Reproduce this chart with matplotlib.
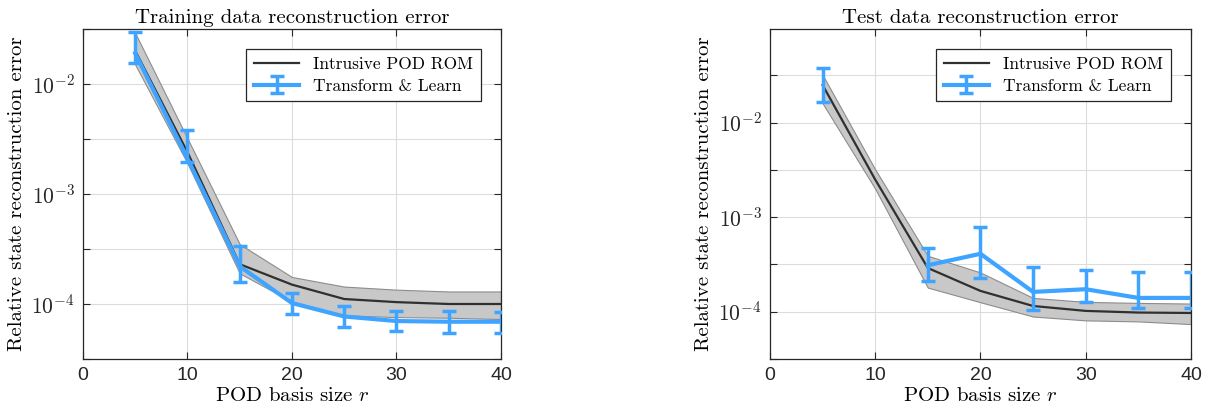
import numpy as np
import matplotlib
matplotlib.use("Agg")
import matplotlib.pyplot as plt
from matplotlib.ticker import FixedLocator, FuncFormatter, NullLocator

# Datos
r = [5, 10, 15, 20, 25, 30, 35, 40]

# Entrenamiento
train_rom = [2.0e-2, 2.4e-3, 2.3e-4, 1.5e-4, 1.11e-4, 1.04e-4, 1.0e-4, 1.0e-4]
train_rom_hi = [2.9e-2, 3.2e-3, 3.5e-4, 1.76e-4, 1.44e-4, 1.35e-4, 1.3e-4, 1.3e-4]
train_rom_lo = [1.5e-2, 1.9e-3, 1.9e-4, 1.05e-4, 7.9e-5, 7.6e-5, 7.5e-5, 7.3e-5]
train_tl = [1.9e-2, 2.1e-3, 2.2e-4, 1.02e-4, 7.7e-5, 7.0e-5, 6.9e-5, 6.9e-5]
train_tl_hi = [3.0e-2, 3.8e-3, 3.4e-4, 1.27e-4, 9.6e-5, 8.7e-5, 8.6e-5, 8.5e-5]
train_tl_lo = [1.55e-2, 1.95e-3, 1.6e-4, 8.1e-5, 6.2e-5, 5.7e-5, 5.5e-5, 5.5e-5]

# Prueba
test_rom = [2.5e-2, 2.5e-3, 2.9e-4, 1.66e-4, 1.15e-4, 1.02e-4, 9.8e-5, 9.7e-5]
test_rom_hi = [3.2e-2, 3.2e-3, 3.9e-4, 2.6e-4, 1.4e-4, 1.27e-4, 1.24e-4, 1.22e-4]
test_rom_lo = [1.6e-2, 2.0e-3, 1.8e-4, 1.26e-4, 8.9e-5, 8.1e-5, 7.9e-5, 7.4e-5]
test_tl = [2.6e-2, np.nan, 3.1e-4, 4.1e-4, 1.62e-4, 1.73e-4, 1.4e-4, 1.4e-4]
test_tl_hi = [3.8e-2, np.nan, 4.7e-4, 7.9e-4, 2.95e-4, 2.77e-4, 2.6e-4, 2.6e-4]
test_tl_lo = [1.66e-2, np.nan, 2.1e-4, 2.3e-4, 1.05e-4, 1.26e-4, 1.1e-4, 1.1e-4]

titulos = ['Training data reconstruction error', 'Test data reconstruction error']
ylims = [(10**-4.5, 10**-1.5), (10**-4.5, 10**-1.01)]

plt.rcParams['mathtext.fontset'] = 'cm'
plt.rcParams['axes.unicode_minus'] = False

AZUL = '#3FA4FF'
SERIF = 'cmr10'
SANS = 'Liberation Sans'


def fmt_log(v, pos):
    e = np.log10(v)
    if abs(e - round(e)) < 1e-6 and e > -1.5:
        return ''
    if abs(e - round(e)) < 1e-6:
        return r'$\mathsf{10^{%d}}$' % int(round(e))
    return ''


def dibujar(ax, rom, rom_hi, rom_lo, tl, tl_hi, tl_lo, titulo, ylim):
    tl = np.array(tl)
    err = [tl - np.array(tl_lo), np.array(tl_hi) - tl]
    ax.fill_between(r, rom_lo, rom_hi, facecolor='#c8c8c8', edgecolor='#8c8c8c',
                    linewidth=0.8, zorder=2)
    ax.plot(r, rom, color='#303030', linewidth=1.6, label='Intrusive POD ROM', zorder=3)
    ax.errorbar(r, tl, yerr=err, color=AZUL, linewidth=3, elinewidth=2.5,
                capsize=5, capthick=2.5, label='Transform & Learn', zorder=4)
    ax.set_yscale('log')
    ax.set_xlim(0, 40)
    ax.set_ylim(*ylim)
    ax.set_xticks([0, 10, 20, 30, 40])
    ax.yaxis.set_major_locator(FixedLocator(10 ** np.arange(-4.5, -1.0, 0.5)))
    ax.yaxis.set_minor_locator(NullLocator())
    ax.yaxis.set_major_formatter(FuncFormatter(fmt_log))
    ax.set_ylim(*ylim)
    ax.grid(True, color='#dcdcdc', linewidth=0.8, zorder=0)
    ax.set_axisbelow(True)
    ax.tick_params(direction='in', top=True, right=True, length=5, width=0.8,
                   color='#262626', labelcolor='#262626', pad=6)
    ax.tick_params(axis='x', labelsize=14)
    ax.tick_params(axis='y', labelsize=15.5)
    for lab in ax.get_xticklabels():
        lab.set_fontfamily(SANS)
    for s in ax.spines.values():
        s.set_color('#262626')
        s.set_linewidth(0.9)
    ax.set_title(titulo, fontfamily=SERIF, fontsize=15, pad=4)
    ax.set_xlabel('POD basis size $r$', fontfamily=SERIF, fontsize=15, labelpad=2)
    ax.set_ylabel('Relative state reconstruction error', fontfamily=SERIF, fontsize=15,
                  labelpad=4)
    leg = ax.legend(loc='upper right', bbox_to_anchor=(0.952, 0.939), borderaxespad=0,
                    fancybox=False, edgecolor='#262626', framealpha=1,
                    prop={'family': SERIF, 'size': 12.5},
                    handlelength=2.6, borderpad=0.45, labelspacing=0.35)
    leg.get_frame().set_linewidth(0.9)


fig = plt.figure(figsize=(12.15, 4.19), dpi=100)
ax1 = fig.add_axes([0.0683, 0.1432, 0.344, 0.7876])
ax2 = fig.add_axes([0.6337, 0.1432, 0.3465, 0.7876])

dibujar(ax1, train_rom, train_rom_hi, train_rom_lo, train_tl, train_tl_hi, train_tl_lo,
        titulos[0], ylims[0])
dibujar(ax2, test_rom, test_rom_hi, test_rom_lo, test_tl, test_tl_hi, test_tl_lo,
        titulos[1], ylims[1])

fig.savefig('out.png', dpi=100)
